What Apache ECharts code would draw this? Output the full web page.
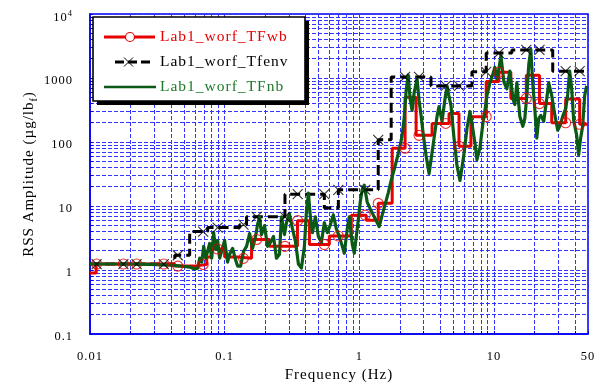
<!DOCTYPE html>
<html>
<head>
<meta charset="utf-8">
<script src="https://cdn.jsdelivr.net/npm/echarts@6/dist/echarts.min.js"></script>
<style>
  html, body { margin: 0; padding: 0; background: #ffffff; }
  #chart { width: 604px; height: 388px; }
</style>
</head>
<body>
<div id="chart"></div>
<script>
// ---- series names ----
const WB_NAME = 'Lab1_worf_TFwb';
const ENV_NAME = 'Lab1_worf_Tfenv';
const NB_NAME = 'Lab1_worf_TFnb';

// ---- axis ticks / grid values ----
const xLabelValues = [0.01, 0.1, 1, 10, 50];
const xGridValues = [0.01, 0.02, 0.03, 0.04, 0.05, 0.06, 0.07, 0.08, 0.09,
  0.1, 0.2, 0.3, 0.4, 0.5, 0.6, 0.7, 0.8, 0.9,
  1, 2, 3, 4, 5, 6, 7, 8, 9,
  10, 20, 30, 40, 50];
const yLabelValues = [0.1, 1, 10, 100, 1000, 10000];
const yGridValues = [0.1, 0.2, 0.3, 0.4, 0.5, 0.6, 0.7, 0.8, 0.9,
  1, 2, 3, 4, 5, 6, 7, 8, 9,
  10, 20, 30, 40, 50, 60, 70, 80, 90,
  100, 200, 300, 400, 500, 600, 700, 800, 900,
  1000, 2000, 3000, 4000, 5000, 6000, 7000, 8000, 9000, 10000];

// ---- wide-band transfer function (step, value holds until next frequency) ----
const wbStepFreq = [0.01, 0.0111, 0.0426, 0.060, 0.0736, 0.0801, 0.1, 0.1248, 0.1585, 0.2154,
  0.3474, 0.4262, 0.5995, 0.8725, 1.127, 1.383, 1.756, 2.19, 2.644, 3.473,
  4.642, 5.505, 6.752, 8.77, 10.89, 13.36, 17.41, 21.8, 26.89, 34.14,
  43.35, 50];
const wbStepAmp = [0.9, 1.24, 1.15, 1.22, 1.6, 2.13, 1.6, 1.52, 3.0, 2.34,
  5.9, 2.5, 3.4, 7.2, 6.0, 11.0, 80, 500, 127, 195,
  279, 86, 249, 880, 1230, 480, 1100, 398, 200, 470,
  189, 189];

// ---- envelope transfer function (step) ----
const envStepFreq = [0.01, 0.0426, 0.055, 0.0748, 0.1292, 0.1455, 0.2806, 0.5503, 0.6993, 1.383,
  1.726, 3.41, 6.87, 8.77, 13.6, 27.35, 50];
const envStepAmp = [1.24, 1.7, 3.98, 4.6, 5.1, 6.77, 15.3, 9.3, 17.9, 108,
  1040, 753, 1250, 2450, 2750, 1280, 1280];

// ---- marker frequencies shared by the two step curves ----
const markFreq = [0.0112, 0.0177, 0.0222, 0.0353, 0.0449, 0.0693, 0.0887, 0.138, 0.173, 0.2806,
  0.349, 0.5503, 0.6993, 1.108, 1.383, 2.19, 2.78, 4.39, 5.51, 8.77,
  10.89, 17.41, 21.8, 34.14, 43.35];
const wbMarkAmp = [1.24, 1.24, 1.24, 1.24, 1.15, 1.22, 2.13, 1.52, 3.0, 2.34,
  5.9, 2.5, 3.4, 7.2, 11.0, 80, 127, 195, 86, 249,
  1230, 480, 398, 200, 189];
const envMarkAmp = [1.24, 1.24, 1.24, 1.24, 1.7, 3.98, 4.6, 5.1, 6.77, 6.77,
  15.3, 15.3, 17.9, 17.9, 108, 1040, 1040, 753, 753, 1250,
  2450, 2750, 2750, 1280, 1280];

// ---- narrow-band transfer function ----
const nbFreq = [0.01, 0.0141, 0.0198, 0.0278, 0.0391, 0.048, 0.055, 0.060, 0.0631, 0.0653,
  0.0676, 0.0699, 0.0723, 0.0748, 0.0774, 0.0801, 0.0829, 0.0858, 0.0887, 0.0918,
  0.095, 0.1, 0.1052, 0.1089, 0.1147, 0.1207, 0.1248, 0.1314, 0.1382, 0.1455,
  0.1532, 0.1612, 0.1697, 0.1755, 0.1817, 0.1879, 0.1979, 0.2083, 0.2192, 0.2307,
  0.2428, 0.2555, 0.2643, 0.2783, 0.2879, 0.303, 0.3189, 0.3356, 0.3532, 0.3718,
  0.3913, 0.4049, 0.419, 0.4335, 0.4486, 0.4721, 0.4968, 0.5229, 0.5503, 0.5794,
  0.6097, 0.6417, 0.6754, 0.7109, 0.7482, 0.7742, 0.8149, 0.8432, 0.8874, 0.9183,
  0.9665, 1.017, 1.052, 1.089, 1.146, 1.207, 1.27, 1.336, 1.406, 1.481,
  1.558, 1.64, 1.726, 1.817, 1.912, 2.012, 2.082, 2.154, 2.229, 2.307,
  2.387, 2.469, 2.555, 2.689, 2.783, 2.879, 2.979, 3.135, 3.3, 3.473,
  3.594, 3.782, 3.913, 4.118, 4.335, 4.486, 4.642, 4.802, 5.054, 5.319,
  5.598, 5.794, 5.995, 6.31, 6.64, 6.871, 7.232, 7.483, 7.875, 8.287,
  8.577, 8.874, 9.341, 9.831, 10.17, 10.52, 10.89, 11.27, 11.86, 12.48,
  13.14, 13.83, 14.3, 14.81, 15.58, 16.4, 16.97, 17.56, 18.17, 18.8,
  19.45, 20.12, 20.82, 21.54, 22.29, 23.46, 24.69, 25.55, 26.89, 28.31,
  29.79, 30.83, 32.44, 34.14, 35.32, 36.56, 37.84, 39.13, 41.18, 42.61,
  44.09, 45.62, 47.22, 48.87];
const nbAmp = [1.24, 1.24, 1.24, 1.22, 1.19, 1.15, 1.11, 1.04, 1.07, 1.53,
  1.33, 2.34, 1.53, 1.96, 2.6, 1.53, 3.84, 2.1, 2.89, 1.53,
  1.96, 2.89, 1.33, 1.76, 2.18, 1.43, 1.15, 1.15, 1.96, 2.34,
  3.71, 2.18, 3.34, 5.1, 6.77, 3.58, 4.93, 2.34, 2.7, 3.34,
  1.53, 1.76, 6.77, 3.58, 5.48, 7.53, 4.43, 2.79, 1.24, 1.07,
  2.34, 8.09, 15.9, 6.77, 3.84, 6.77, 3.34, 2.7, 5.48, 3.84,
  5.1, 7.27, 4.43, 3.34, 2.34, 1.83, 4.43, 6.77, 2.51, 1.83,
  4.43, 11.5, 18.3, 21.1, 11.5, 8.99, 7.27, 5.88, 4.75, 7.27,
  10.7, 15.9, 25.1, 37.1, 56.7, 86.8, 128, 234, 631, 1112,
  475, 311, 588, 965, 443, 260, 138, 60.9, 32.2, 67.7,
  115, 251, 358, 211, 475, 753, 510, 371, 115, 42.7,
  25.1, 39.8, 65.4, 164, 300, 196, 96.5, 52.9, 80.9, 196,
  311, 529, 838, 1152, 1476, 965, 1376, 2258, 868, 677,
  1282, 475, 384, 838, 251, 176, 234, 529, 1642, 2794,
  809, 334, 115, 234, 260, 211, 475, 838, 529, 270,
  153, 176, 251, 334, 548, 1282, 677, 218, 128, 63.1,
  115, 176, 529, 753];

// ---- styling ----
const FONT = '"Liberation Serif", "Times New Roman", serif';
const RED = '#e60000';
const GREEN = '#0a5a16';
const GREEN_TEXT = '#1d7a2a';
const FRAME = '#0000ee';
const GRIDLINE = '#3434ff';
const SPACING = '1px';

function zip(xs, ys) { return xs.map((x, i) => [x, ys[i]]); }

// text is set with a little letter spacing; measure with the same spacing so layout agrees
const measureCtx = document.createElement('canvas').getContext('2d');
measureCtx.letterSpacing = SPACING;
if (echarts.setPlatformAPI) {
  echarts.setPlatformAPI({
    measureText: function (text, font) {
      measureCtx.font = font || '12px sans-serif';
      return measureCtx.measureText(text);
    }
  });
}

const legendGraphics = [
  // drop shadow, then the framed box
  { type: 'rect', z: 99, shape: { x: 97, y: 21, width: 212, height: 84 },
    style: { fill: '#000000' } },
  { type: 'rect', z: 100, shape: { x: 93, y: 17, width: 212, height: 84 },
    style: { fill: '#ffffff', stroke: '#000000', lineWidth: 1.6 } },
  // wide-band entry
  { type: 'line', z: 101, shape: { x1: 104, y1: 37, x2: 155, y2: 37 },
    style: { stroke: RED, lineWidth: 3 } },
  { type: 'circle', z: 102, shape: { cx: 130, cy: 37, r: 4.5 },
    style: { fill: '#ffffff', stroke: RED, lineWidth: 1.2 } },
  { type: 'text', z: 102, x: 160, y: 37,
    style: { text: WB_NAME, fill: RED, fontSize: 15.5, fontFamily: FONT, verticalAlign: 'middle' } },
  // envelope entry
  { type: 'line', z: 101, shape: { x1: 115, y1: 62, x2: 153, y2: 62 },
    style: { stroke: '#000000', lineWidth: 3, lineDash: [9, 4] } },
  { type: 'line', z: 102, shape: { x1: 124, y1: 57.5, x2: 133, y2: 66.5 },
    style: { stroke: '#000000', lineWidth: 1 } },
  { type: 'line', z: 102, shape: { x1: 133, y1: 57.5, x2: 124, y2: 66.5 },
    style: { stroke: '#000000', lineWidth: 1 } },
  { type: 'text', z: 102, x: 160, y: 62,
    style: { text: ENV_NAME, fill: '#000000', fontSize: 15.5, fontFamily: FONT, verticalAlign: 'middle' } },
  // narrow-band entry
  { type: 'line', z: 101, shape: { x1: 104, y1: 87, x2: 156, y2: 87 },
    style: { stroke: GREEN, lineWidth: 2.5 } },
  { type: 'text', z: 102, x: 160, y: 87,
    style: { text: NB_NAME, fill: GREEN_TEXT, fontSize: 15.5, fontFamily: FONT, verticalAlign: 'middle' } }
];

const option = {
  animation: false,
  backgroundColor: '#ffffff',
  textStyle: { fontFamily: FONT },
  grid: { left: 90, right: 16, top: 14, bottom: 49, show: true,
          borderColor: FRAME, borderWidth: 1.5, backgroundColor: 'transparent' },
  xAxis: {
    type: 'log', logBase: 10, min: 0.01, max: 50,
    name: 'Frequency (Hz)', nameLocation: 'middle', nameGap: 33, nameMoveOverlap: false,
    nameTextStyle: { fontSize: 15, color: '#000000', fontFamily: FONT },
    axisLine: { show: true, lineStyle: { color: FRAME, width: 1.5 } },
    axisTick: { show: true, inside: true, length: 3, customValues: xGridValues,
                lineStyle: { color: FRAME, width: 1 } },
    minorTick: { show: false },
    axisLabel: { customValues: xLabelValues, formatter: v => String(v),
                 color: '#000000', fontSize: 12.5, fontFamily: FONT, margin: 16 },
    splitLine: { show: true, lineStyle: { color: GRIDLINE, width: 1, type: [4, 2] } }
  },
  yAxis: {
    type: 'log', logBase: 10, min: 0.1, max: 10000,
    name: '{a|RSS Amplitude (µg/lb}{s|f}{a|)}', nameLocation: 'middle', nameGap: 50, nameMoveOverlap: false,
    nameTextStyle: {
      rich: {
        a: { fontSize: 15, fontFamily: FONT, color: '#000000', lineHeight: 22, verticalAlign: 'middle' },
        s: { fontSize: 10, fontFamily: FONT, color: '#000000', lineHeight: 22, verticalAlign: 'bottom' }
      }
    },
    axisLine: { show: true, lineStyle: { color: FRAME, width: 1.5 } },
    axisTick: { show: true, inside: true, length: 3, customValues: yGridValues,
                lineStyle: { color: FRAME, width: 1 } },
    minorTick: { show: false },
    axisLabel: {
      customValues: yLabelValues,
      formatter: v => (v >= 9999 ? '{b|10}{s|4}' : String(v)),
      color: '#000000', fontSize: 12.5, fontFamily: FONT, margin: 17,
      padding: [6, 0, 0, 0],
      rich: {
        b: { fontSize: 12.5, fontFamily: FONT, color: '#000000', lineHeight: 16, verticalAlign: 'bottom' },
        s: { fontSize: 8.5, fontFamily: FONT, color: '#000000', lineHeight: 16, verticalAlign: 'top' }
      }
    },
    splitLine: { show: true, lineStyle: { color: GRIDLINE, width: 1, type: [4, 2] } }
  },
  series: [
    { name: ENV_NAME, type: 'line', step: 'end', data: zip(envStepFreq, envStepAmp),
      symbol: 'none', showSymbol: false, z: 2,
      lineStyle: { color: '#000000', width: 3, type: [10, 5] } },
    { name: WB_NAME, type: 'line', step: 'end', data: zip(wbStepFreq, wbStepAmp),
      symbol: 'none', showSymbol: false, z: 3,
      lineStyle: { color: RED, width: 3 } },
    { name: NB_NAME, type: 'line', data: zip(nbFreq, nbAmp),
      symbol: 'none', showSymbol: false, z: 4,
      lineStyle: { color: GREEN, width: 3.2, join: 'round' } },
    { name: WB_NAME + ' markers', type: 'scatter', data: zip(markFreq, wbMarkAmp), z: 5,
      symbol: 'circle', symbolSize: 10,
      itemStyle: { color: 'rgba(0,0,0,0)', borderColor: RED, borderWidth: 1.1 } },
    { name: ENV_NAME + ' markers', type: 'scatter', data: zip(markFreq, envMarkAmp), z: 6,
      symbol: 'path://M0,0L10,10M10,0L0,10', symbolSize: 10,
      itemStyle: { color: 'none', borderColor: '#000000', borderWidth: 1.1 } }
  ],
  graphic: legendGraphics
};

const chart = echarts.init(document.getElementById('chart'), null, { renderer: 'canvas' });
chart.setOption(option);
// apply the same letter spacing on the drawing canvases, then repaint
document.querySelectorAll('#chart canvas').forEach(c => {
  const ctx = c.getContext('2d');
  if (ctx) ctx.letterSpacing = SPACING;
});
chart.clear();
chart.setOption(option);
</script>
</body>
</html>
